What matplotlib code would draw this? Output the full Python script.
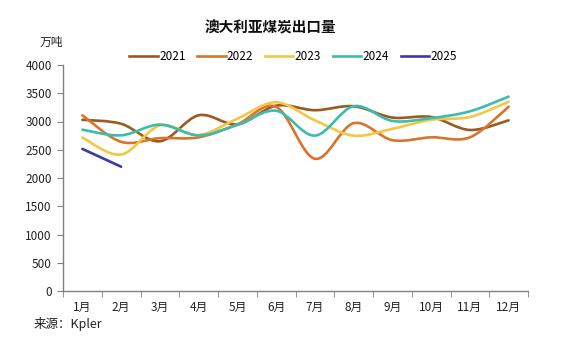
import matplotlib
matplotlib.use("Agg")
import matplotlib.pyplot as plt
from matplotlib.path import Path
from matplotlib.patches import PathPatch
from matplotlib.lines import Line2D
import numpy as np

plt.rcParams['font.family'] = ['Noto Sans CJK SC', 'DejaVu Sans']

months = ['1月', '2月', '3月', '4月', '5月', '6月', '7月', '8月', '9月', '10月', '11月', '12月']
y2021 = [3030, 2960, 2650, 3110, 2950, 3280, 3200, 3270, 3070, 3080, 2850, 3020]
y2022 = [3110, 2640, 2705, 2720, 2950, 3260, 2340, 2970, 2670, 2720, 2720, 3260]
y2023 = [2715, 2415, 2930, 2760, 3050, 3340, 3020, 2750, 2870, 3030, 3080, 3350]
y2024 = [2855, 2755, 2945, 2755, 2940, 3190, 2750, 3270, 3010, 3060, 3180, 3440]
y2025 = [2515, 2200]

series = [('2021', y2021, '#9A5A22'),
          ('2022', y2022, '#D9742A'),
          ('2023', y2023, '#F3C646'),
          ('2024', y2024, '#3CBCAC'),
          ('2025', y2025, '#3D3A9E')]

fig = plt.figure(figsize=(5.84, 3.40), dpi=100)
ax = fig.add_axes([63/584, 1-291/340, (528-63)/584, (291-65)/340])


def smooth_path(xs, ys, t=1/6):
    xs = np.asarray(xs, float); ys = np.asarray(ys, float)
    n = len(xs)
    verts = [(xs[0], ys[0])]
    codes = [Path.MOVETO]
    for i in range(n - 1):
        x0, y0 = (xs[i-1], ys[i-1]) if i > 0 else (xs[i], ys[i])
        x1, y1 = xs[i], ys[i]
        x2, y2 = xs[i+1], ys[i+1]
        x3, y3 = (xs[i+2], ys[i+2]) if i + 2 < n else (xs[i+1], ys[i+1])
        c1 = (x1 + (x2 - x0) * t, y1 + (y2 - y0) * t)
        c2 = (x2 - (x3 - x1) * t, y2 - (y3 - y1) * t)
        verts += [c1, c2, (x2, y2)]
        codes += [Path.CURVE4] * 3
    return Path(verts, codes)


handles = []
for name, vals, col in series:
    xs = np.arange(1, len(vals) + 1)
    if len(vals) > 2:
        p = PathPatch(smooth_path(xs, vals), facecolor='none', edgecolor=col,
                      lw=1.9, capstyle='round', joinstyle='round')
        ax.add_patch(p)
    else:
        ax.plot(xs, vals, color=col, lw=1.9, solid_capstyle='round')
    handles.append(Line2D([], [], color=col, lw=1.9))

ax.set_xlim(0.5, 12.5)
ax.set_ylim(0, 4000)
ax.set_yticks(np.arange(0, 4001, 500))
ax.set_xticks(np.arange(1, 13))
ax.set_xticklabels(months)
ax.set_xticks(np.arange(0.5, 12.6, 1), minor=True)
ax.tick_params(axis='x', which='major', length=0, pad=7, labelsize=8.5, colors='#222222')
ax.tick_params(axis='x', which='minor', length=4, color='#808080', direction='out')
ax.tick_params(axis='y', length=4, color='#808080', labelsize=8.5, colors='#222222', pad=4)
for s in ['top', 'right']:
    ax.spines[s].set_visible(False)
for s in ['left', 'bottom']:
    ax.spines[s].set_color('#808080')
    ax.spines[s].set_linewidth(1.0)

fig.text(270/584, 1-28/340, '澳大利亚煤炭出口量', ha='center', va='center',
         fontsize=10.5, fontweight='bold', color='#111111')
fig.text(40/584, 1-42/340, '万吨', ha='left', va='center', fontsize=8.5, color='#222222')
fig.text(34/584, 1-324/340, '来源：Kpler', ha='left', va='center', fontsize=9, color='#222222')

fig.legend(handles, [s[0] for s in series], loc='center', bbox_to_anchor=(293/584, 1-57/340),
           ncol=5, frameon=False, fontsize=8.5, handlelength=2.4, handletextpad=0.1,
           columnspacing=1.0, borderpad=0)

fig.savefig('out.png', dpi=100)
